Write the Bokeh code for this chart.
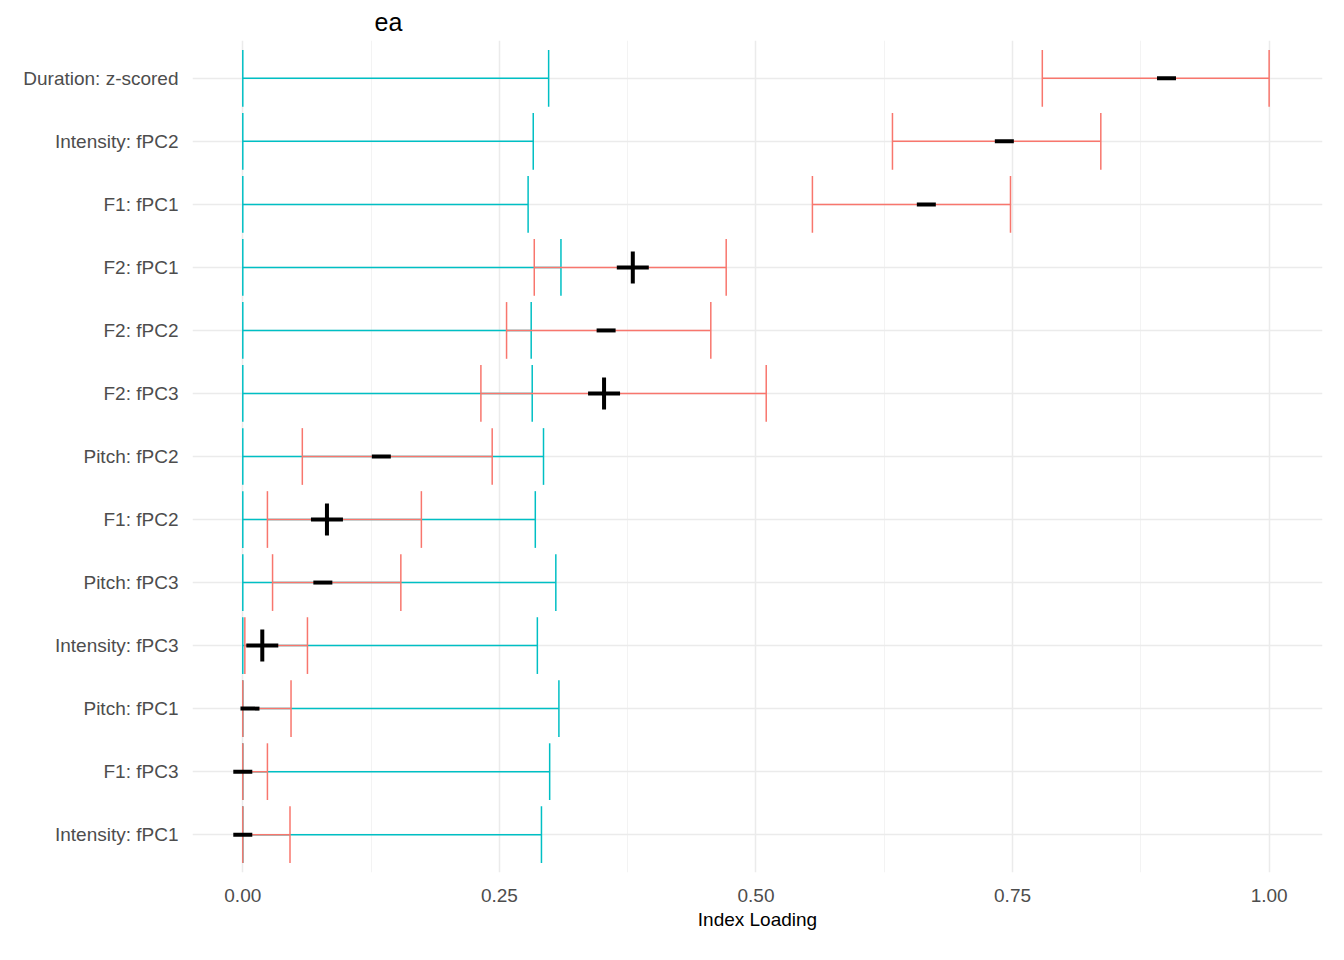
from bokeh.plotting import figure
from bokeh.embed import file_html
from bokeh.resources import INLINE
from bokeh.models import FixedTicker, Range1d
import numpy as np

labels = ["Duration: z-scored","Intensity: fPC2","F1: fPC1","F2: fPC1","F2: fPC2","F2: fPC3",
          "Pitch: fPC2","F1: fPC2","Pitch: fPC3","Intensity: fPC3","Pitch: fPC1","F1: fPC3","Intensity: fPC1"]
null_lo = [0.0]*13
null_hi = [0.298,0.283,0.278,0.310,0.281,0.282,0.293,0.285,0.305,0.287,0.308,0.299,0.291]
obs_lo = [0.779,0.633,0.555,0.284,0.257,0.232,0.058,0.024,0.029,0.002,0.0,0.0,0.0]
obs_hi = [1.0,0.836,0.748,0.471,0.456,0.510,0.243,0.174,0.154,0.063,0.047,0.024,0.046]
obs_est = [0.900,0.742,0.666,0.380,0.354,0.352,0.135,0.082,0.078,0.019,0.007,0.0,0.0]
signif = [False,False,False,True,False,True,False,True,False,True,False,False,False]
xticks = [0.0,0.25,0.5,0.75,1.0]
xtick_labels = ["0.00","0.25","0.50","0.75","1.00"]

n = len(labels)
y = np.arange(n, 0, -1).astype(float)

p = figure(width=1328, height=944, output_backend="svg", toolbar_location=None,
           x_range=Range1d(-0.049, 1.052), y_range=Range1d(0.4, 13.6), title="ea",
           min_border_left=192, min_border_right=6, min_border_top=10, min_border_bottom=72)
p.title.text_font = "Liberation Sans"
p.title.text_font_size = "25px"; p.title.text_font_style = "normal"; p.title.text_color = "black"
p.title.offset = 182
p.outline_line_color = None

def draw(lo, hi, color):
    p.segment(x0=lo, x1=hi, y0=y, y1=y, line_color=color, line_width=1.5)
    for xs in (lo, hi):
        p.segment(x0=xs, x1=xs, y0=y-0.45, y1=y+0.45, line_color=color, line_width=1.5)

draw(null_lo, null_hi, "#00BFC4")
draw(obs_lo, obs_hi, "#F8766D")

ys = [yy for yy, s in zip(y, signif) if s]; xs = [e for e, s in zip(obs_est, signif) if s]
yd = [yy for yy, s in zip(y, signif) if not s]; xd = [e for e, s in zip(obs_est, signif) if not s]
p.scatter(xd, yd, marker="dash", size=19, line_width=4, line_color="black")
p.scatter(xs, ys, marker="cross", size=32, line_width=4, line_color="black")

p.xaxis.ticker = FixedTicker(ticks=xticks, minor_ticks=[0.125,0.375,0.625,0.875])
p.xaxis.major_label_overrides = {t: l for t, l in zip(xticks, xtick_labels)}
p.yaxis.ticker = FixedTicker(ticks=list(y))
p.yaxis.major_label_overrides = {float(yy): l for yy, l in zip(y, labels)}
for ax in (p.xaxis, p.yaxis):
    ax.axis_line_color = None
    ax.major_tick_line_color = None
    ax.minor_tick_line_color = None
    ax.major_label_text_font = "Liberation Sans"
    ax.major_label_text_font_size = "19px"
    ax.major_label_text_color = "#4d4d4d"
p.yaxis.major_label_standoff = 8
p.xaxis.major_label_standoff = 10
p.xaxis.axis_label = "Index Loading"
p.xaxis.axis_label_text_font = "Liberation Sans"
p.xaxis.axis_label_text_font_size = "19px"
p.xaxis.axis_label_text_font_style = "normal"
p.xaxis.axis_label_text_color = "black"
p.xaxis.axis_label_standoff = 4
p.xgrid.grid_line_color = "#ebebeb"; p.xgrid.grid_line_width = 1.5
p.xgrid.minor_grid_line_color = "#f3f3f3"
p.ygrid.grid_line_color = "#ebebeb"; p.ygrid.grid_line_width = 1.5

open("out.html", "w").write(file_html(p, INLINE))
